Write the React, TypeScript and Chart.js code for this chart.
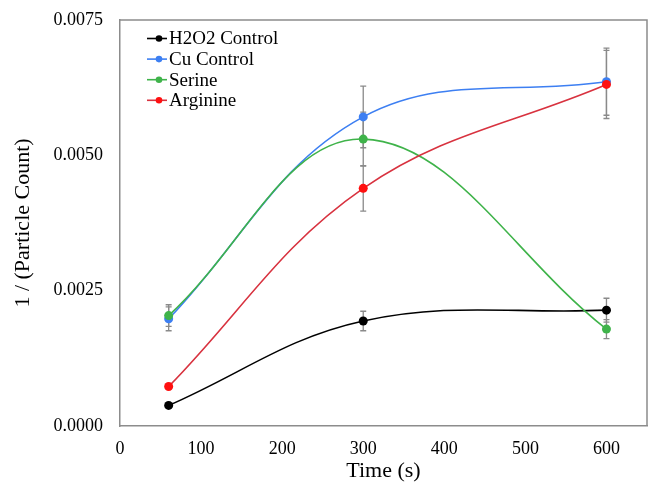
import React, { useEffect, useRef } from "react";
import { Chart, registerables } from "chart.js";

Chart.register(...registerables);

const times = [60, 300, 600];
const xTicks = [0, 100, 200, 300, 400, 500, 600];
const yTicks = [0, 0.0025, 0.005, 0.0075];

const seriesNames = ["H2O2 Control", "Cu Control", "Serine", "Arginine"];
const h2o2 = [0.00038, 0.00194, 0.00214];
const h2o2Err = [0.00003, 0.00018, 0.00022];
const cu = [0.00198, 0.00571, 0.00636];
const cuErr = [0.00022, 0.00057, 0.00062];
const serine = [0.00204, 0.0053, 0.00179];
const serineErr = [0.0002, 0.0005, 0.000175];
const arginine = [0.00073, 0.00439, 0.00631];
const arginineErr = [0.00003, 0.00042, 0.00063];

const lineColors = ["#000000", "#3d7ff2", "#3fb34a", "#d8323f"];
const markerColors = ["#000000", "#3d7ff2", "#3fb34a", "#ff1010"];

const FONT = "'Liberation Serif', 'Times New Roman', serif";

const errorBarPlugin = {
  id: "errorBars",
  beforeDatasetsDraw(chart: any) {
    const ctx = chart.ctx;
    const xs = chart.scales.x;
    const ys = chart.scales.y;
    ctx.save();
    ctx.strokeStyle = "#8a8a8a";
    ctx.lineWidth = 1.3;
    chart.data.datasets.forEach((ds: any) => {
      const errs: number[] = ds.errors || [];
      ds.data.forEach((p: any, i: number) => {
        const e = errs[i];
        if (!e) return;
        const x = xs.getPixelForValue(p.x);
        const y1 = ys.getPixelForValue(p.y + e);
        const y2 = ys.getPixelForValue(p.y - e);
        ctx.beginPath();
        ctx.moveTo(x, y1);
        ctx.lineTo(x, y2);
        ctx.moveTo(x - 3, y1);
        ctx.lineTo(x + 3, y1);
        ctx.moveTo(x - 3, y2);
        ctx.lineTo(x + 3, y2);
        ctx.stroke();
      });
    });
    ctx.restore();
  },
};

const legendPlugin = {
  id: "insideLegend",
  afterDraw(chart: any) {
    const ctx = chart.ctx;
    const area = chart.chartArea;
    const x0 = area.left + 27;
    const y0 = area.top + 18.5;
    const step = 20.6;
    ctx.save();
    ctx.font = `19px ${FONT}`;
    ctx.textBaseline = "middle";
    ctx.textAlign = "left";
    seriesNames.forEach((name, i) => {
      const y = y0 + i * step;
      ctx.strokeStyle = lineColors[i];
      ctx.lineWidth = 1.6;
      ctx.beginPath();
      ctx.moveTo(x0, y);
      ctx.lineTo(x0 + 20, y);
      ctx.stroke();
      ctx.fillStyle = markerColors[i];
      ctx.beginPath();
      ctx.arc(x0 + 12, y, 3.3, 0, Math.PI * 2);
      ctx.fill();
      ctx.fillStyle = "#000";
      ctx.fillText(name, x0 + 22, y + 1);
    });
    ctx.restore();
  },
};

const frameplugin = {
  id: "frame",
  afterDraw(chart: any) {
    const { ctx, chartArea: a } = chart;
    ctx.save();
    ctx.strokeStyle = "#8c8c8c";
    ctx.lineWidth = 1.5;
    ctx.beginPath();
    ctx.moveTo(a.left, a.top);
    ctx.lineTo(a.right, a.top);
    ctx.lineTo(a.right, a.bottom);
    ctx.stroke();
    ctx.restore();
  },
};

export default function App() {
  const ref = useRef<HTMLCanvasElement | null>(null);

  useEffect(() => {
    if (!ref.current) return;
    const values = [h2o2, cu, serine, arginine];
    const errs = [h2o2Err, cuErr, serineErr, arginineErr];
    const chart = new Chart(ref.current, {
      type: "line",
      data: {
        datasets: values.map((vals, i) => ({
          label: seriesNames[i],
          data: times.map((t, j) => ({ x: t, y: vals[j] })),
          errors: errs[i],
          borderColor: lineColors[i],
          backgroundColor: markerColors[i],
          pointBackgroundColor: markerColors[i],
          pointBorderColor: markerColors[i],
          pointRadius: 4.5,
          pointBorderWidth: 0,
          borderWidth: 1.6,
          tension: 0.38,
          fill: false,
          order: 4 - i,
        })) as any,
      },
      options: {
        responsive: false,
        maintainAspectRatio: false,
        animation: false,
        layout: { autoPadding: false, padding: { top: 20, right: 1, left: 0, bottom: 0 } },
        plugins: {
          legend: { display: false },
          title: { display: false },
          tooltip: { enabled: false },
        },
        scales: {
          x: {
            type: "linear",
            min: 0,
            max: 650,
            afterBuildTicks: (s: any) => {
              s.ticks = xTicks.map((v) => ({ value: v }));
            },
            afterFit: (s: any) => {
              s.height = 58;
              s.paddingLeft = 0;
              s.paddingRight = 0;
              s.paddingTop = 0;
              s.paddingBottom = 0;
            },
            grid: { display: false, drawTicks: false },
            border: { display: true, color: "#8c8c8c", width: 1.5 },
            ticks: {
              color: "#000",
              font: { family: FONT, size: 18 },
              padding: 12,
              maxRotation: 0,
            },
            title: {
              display: true,
              text: "Time (s)",
              color: "#000",
              font: { family: FONT, size: 22 },
              padding: { top: 0, bottom: 0 },
            },
          },
          y: {
            type: "linear",
            min: 0,
            max: 0.0075,
            afterBuildTicks: (s: any) => {
              s.ticks = yTicks.map((v) => ({ value: v }));
            },
            afterFit: (s: any) => {
              s.width = 120;
              s.paddingLeft = 0;
              s.paddingRight = 0;
              s.paddingTop = 0;
              s.paddingBottom = 0;
            },
            grid: { display: false, drawTicks: false },
            border: { display: true, color: "#8c8c8c", width: 1.5 },
            ticks: {
              color: "#000",
              font: { family: FONT, size: 18 },
              padding: 17,
              callback: (v: any) => Number(v).toFixed(4),
            },
            title: {
              display: true,
              text: "1 / (Particle Count)",
              color: "#000",
              font: { family: FONT, size: 22 },
              padding: { top: 10, bottom: 0 },
            },
          },
        },
      },
      plugins: [errorBarPlugin, frameplugin, legendPlugin],
    });
    return () => chart.destroy();
  }, []);

  return (
    <div style={{ position: "fixed", left: 0, top: 0, width: 648, height: 484, background: "#fff" }}>
      <canvas ref={ref} width={648} height={484} style={{ width: 648, height: 484 }} />
    </div>
  );
}
